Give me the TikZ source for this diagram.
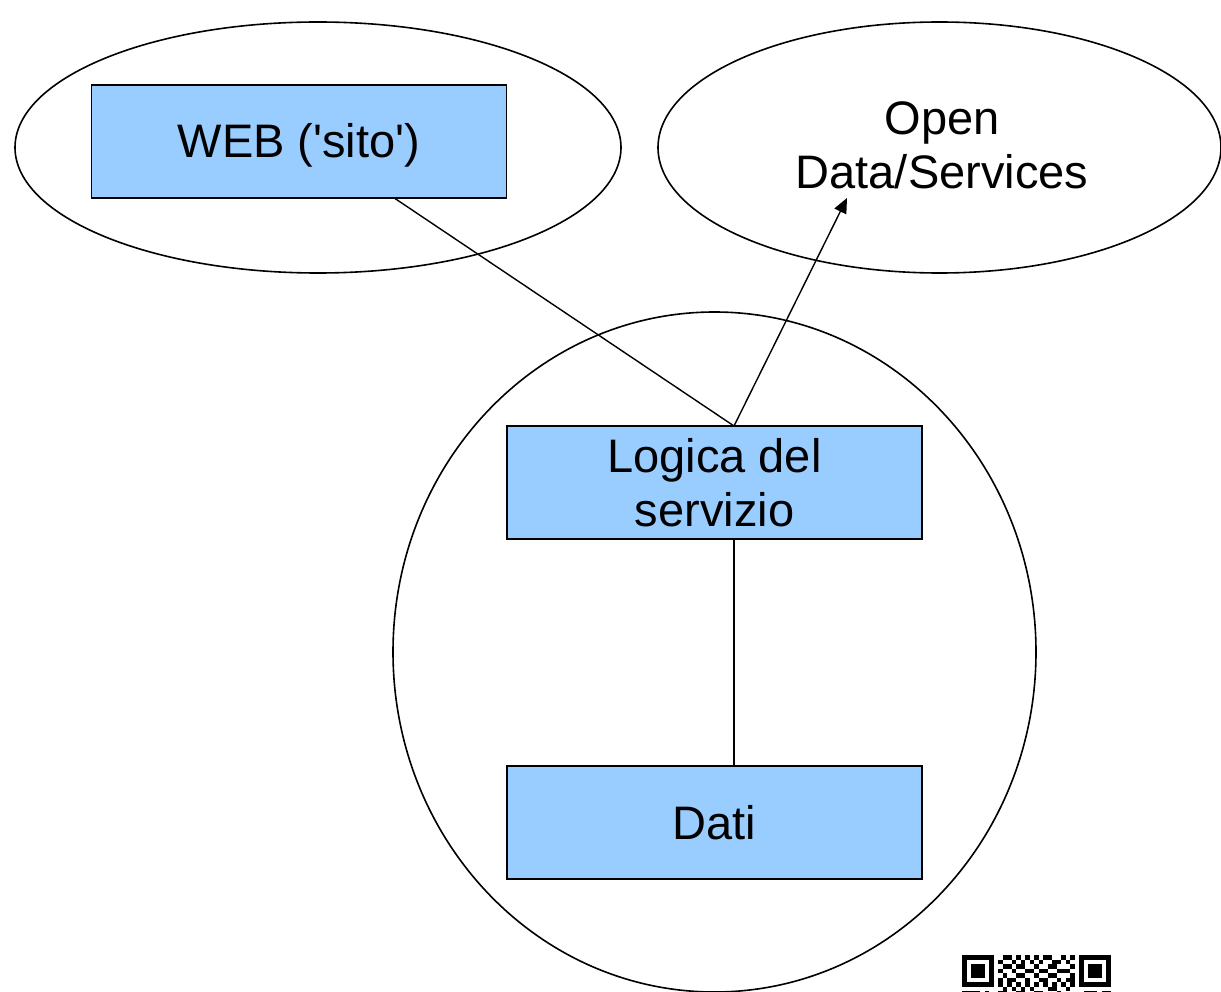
\documentclass[tikz,border=0pt]{standalone}
\usepackage{fontspec}
\setmainfont{Liberation Sans}
\usetikzlibrary{arrows.meta}
\definecolor{boxblue}{HTML}{99CCFF}
\begin{document}
\begin{tikzpicture}[x=1pt,y=-1pt,
  bigtext/.style={font=\fontsize{47}{54}\selectfont, align=center},
  bluebox/.style={draw=black, line width=1.6pt, fill=boxblue, minimum width=415pt, minimum height=113pt, inner sep=0pt, bigtext},
  oval/.style={draw=black, line width=1.6pt},
  conn/.style={draw=black, line width=1.4pt},
  qrm/.style={fill=black}
]
\useasboundingbox (0,0) rectangle (1221,992);
\begin{scope}
\clip (0,0) rectangle (1221,992);
% ellipses
\draw[oval] (318,147.5) ellipse [x radius=303, y radius=125.5];
\draw[oval] (939.5,147.5) ellipse [x radius=281.5, y radius=125.5];
\draw[oval] (714.5,652) ellipse [x radius=321.5, y radius=340];

% boxes
\node[bluebox] (web) at (299,141.5) {\raisebox{-4pt}[\height][\depth]{WEB (\textquotesingle sito\textquotesingle)}};
\node[bluebox] (logica) at (714.5,482.5) {Logica del\\servizio};
\node[bluebox] (dati) at (714.5,822.5) {Dati};
\node[bigtext, inner sep=0pt] (open) at (942,145) {Open\\Data/Services};

% connector points
\coordinate (websrc) at (395,198.5);
\coordinate (logtop) at (734,426);
\coordinate (logbot) at (734,539);
\coordinate (datitop) at (734,766);
\coordinate (opentip) at (847,198);

\draw[conn] (websrc) -- (logtop);
\draw[conn, -{Triangle[length=15pt,width=13pt]}] (logtop) -- (opentip);
\draw[conn] (logbot) -- (datitop);

% QR code fragment
\def\m{4.5}
\foreach \ox in {962,1079}{
  \fill[black] (\ox,955) rectangle ++(7*\m,7*\m);
  \fill[white] (\ox+\m,955+\m) rectangle ++(5*\m,5*\m);
  \fill[black] (\ox+2*\m,955+2*\m) rectangle ++(3*\m,3*\m);
}
\foreach \r/\cols in {0/{9,10,12,14,16,18,19,22,24},
                      1/{8,11,13,15,17,20,21,23},
                      2/{9,10,12,13,16,19,20,24},
                      3/{8,11,14,15,17,18,21,22,23},
                      4/{9,12,13,16,19,20,24},
                      5/{8,10,11,14,17,18,21,23,24},
                      6/{8,10,12,14,16,18,20,22,24},
                      7/{9,11,13,15,19,20,23},
                      8/{0,1,2,3,5,8,9,12,13,16,17,21,27,28,29,31,32}}{
  \foreach \c in \cols {
    \fill[qrm] (962+\c*\m,955+\r*\m) rectangle ++(\m,\m);
  }
}
\end{scope}
\end{tikzpicture}
\end{document}
